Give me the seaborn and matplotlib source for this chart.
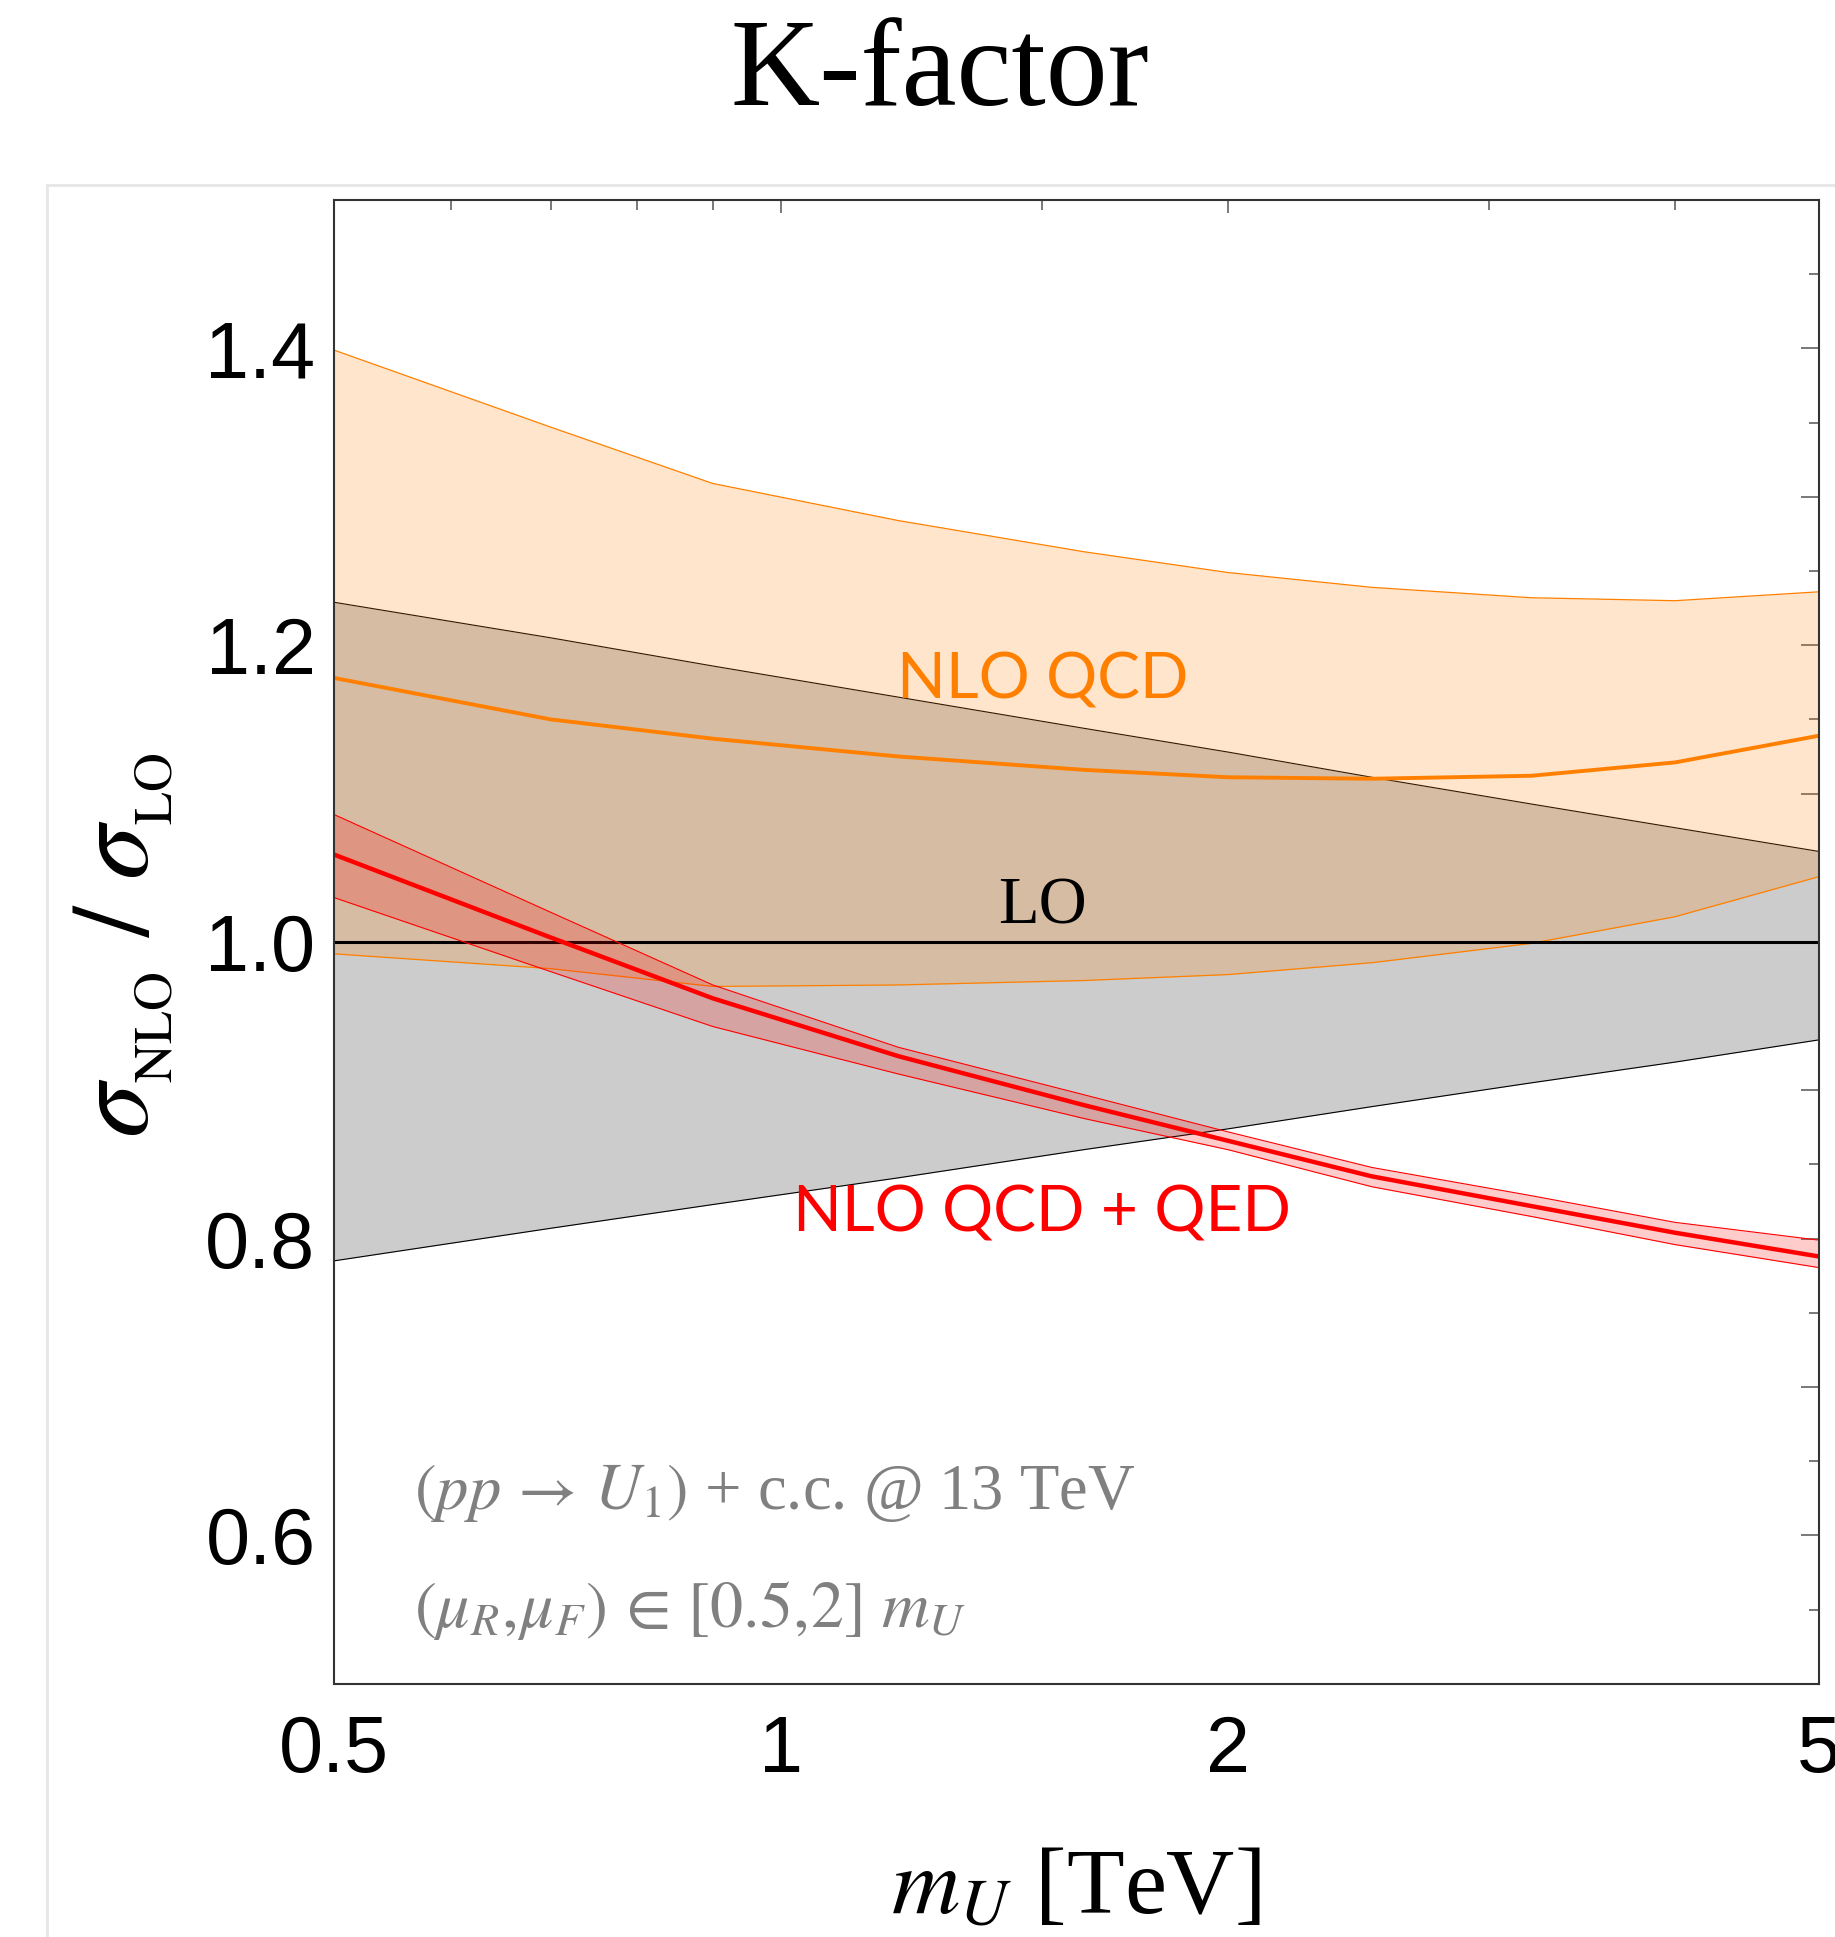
import numpy as np
import pandas as pd
import matplotlib
matplotlib.use("Agg")
import matplotlib.pyplot as plt
import seaborn as sns
from matplotlib.ticker import FixedLocator, FixedFormatter, NullFormatter
from matplotlib.lines import Line2D

# ---------------- data ----------------
m_U = [0.5, 0.7, 0.9, 1.2, 1.6, 2.0, 2.5, 3.2, 4.0, 5.0]
lo_up = [1.229, 1.205, 1.186, 1.165, 1.144, 1.128, 1.111, 1.093, 1.077, 1.061]
lo_dn = [0.785, 0.807, 0.823, 0.841, 0.860, 0.874, 0.889, 0.905, 0.919, 0.934]
lo_c = [1.0] * 10
qcd_c = [1.178, 1.150, 1.137, 1.125, 1.116, 1.111, 1.110, 1.112, 1.121, 1.139]
qcd_up = [1.399, 1.347, 1.309, 1.284, 1.263, 1.249, 1.239, 1.232, 1.230, 1.236]
qcd_dn = [0.992, 0.982, 0.970, 0.971, 0.974, 0.978, 0.986, 0.999, 1.017, 1.044]
qed_c = [1.059, 1.003, 0.962, 0.923, 0.890, 0.866, 0.842, 0.822, 0.804, 0.788]
qed_up = [1.086, 1.020, 0.971, 0.929, 0.897, 0.872, 0.848, 0.829, 0.811, 0.799]
qed_dn = [1.030, 0.980, 0.943, 0.911, 0.881, 0.860, 0.835, 0.815, 0.796, 0.7805]

x_major = [0.5, 1, 2, 5]
x_major_labels = ["0.5", "1", "2", "5"]
x_minor = [0.6, 0.7, 0.8, 0.9, 1.5, 3, 4]
y_major = [0.5, 0.6, 0.7, 0.8, 0.9, 1.0, 1.1, 1.2, 1.3, 1.4, 1.5]
y_major_labels = ["", "0.6", "", "0.8", "", "1.0", "", "1.2", "", "1.4", ""]
y_minor = [0.55, 0.65, 0.75, 0.85, 0.95, 1.05, 1.15, 1.25, 1.35, 1.45]

df = pd.DataFrame({"m": m_U, "LO": lo_c, "QCD": qcd_c, "QED": qed_c})

# ---------------- style ----------------
sns.set_theme(style="white")
plt.rcParams["mathtext.fontset"] = "stix"
plt.rcParams["font.family"] = ["Liberation Sans", "DejaVu Sans"]
plt.rcParams["text.color"] = "black"

W, H = 1835, 1937
fig = plt.figure(figsize=(W / 100, H / 100), dpi=100)
fig.patch.set_facecolor("white")
ax = fig.add_axes([270 / 1485, 1 - 1363 / 1568, 1202 / 1485, 1201 / 1568])
ax.set_facecolor("white")

ORANGE = "#ff8000"
RED = "#ff0000"

# LO band
ax.fill_between(m_U, lo_dn, lo_up, color="#cccccc", linewidth=0, zorder=1)
ax.plot(m_U, lo_up, color="black", lw=0.8, zorder=2)
ax.plot(m_U, lo_dn, color="black", lw=0.8, zorder=2)
# NLO QCD band
ax.fill_between(m_U, qcd_dn, qcd_up, color=ORANGE, alpha=0.2, linewidth=0, zorder=3)
ax.plot(m_U, qcd_up, color=ORANGE, lw=0.9, zorder=4)
ax.plot(m_U, qcd_dn, color=ORANGE, lw=0.9, zorder=4)
# LO line
sns.lineplot(data=df, x="m", y="LO", color="black", lw=2.2, ax=ax, zorder=5)
# NLO QCD central
sns.lineplot(data=df, x="m", y="QCD", color=ORANGE, lw=2.8, ax=ax, zorder=6)
# QCD+QED band
ax.fill_between(m_U, qed_dn, qed_up, color=RED, alpha=0.2, linewidth=0, zorder=7)
ax.plot(m_U, qed_up, color=RED, lw=0.8, zorder=8)
ax.plot(m_U, qed_dn, color=RED, lw=0.8, zorder=8)
sns.lineplot(data=df, x="m", y="QED", color=RED, lw=3.2, ax=ax, zorder=9)

ax.set_xscale("log")
ax.set_xlim(0.5, 5)
ax.set_ylim(0.5, 1.5)
ax.set_xlabel("")
ax.set_ylabel("")

ax.xaxis.set_major_locator(FixedLocator(x_major))
ax.xaxis.set_major_formatter(FixedFormatter(x_major_labels))
ax.xaxis.set_minor_locator(FixedLocator(x_minor))
ax.xaxis.set_minor_formatter(NullFormatter())
ax.yaxis.set_major_locator(FixedLocator(y_major))
ax.yaxis.set_major_formatter(FixedFormatter(y_major_labels))
ax.yaxis.set_minor_locator(FixedLocator(y_minor))
ax.yaxis.set_minor_formatter(NullFormatter())

tick_col = "#555555"
ax.tick_params(axis="both", which="both", direction="in", top=True, right=True,
               color=tick_col, width=1.1, labelsize=57, labelcolor="black")
ax.tick_params(axis="x", which="major", length=9, pad=22)
ax.tick_params(axis="x", which="minor", length=7)
ax.tick_params(axis="y", which="major", length=13, pad=13)
ax.tick_params(axis="y", which="minor", length=7)
for sp in ax.spines.values():
    sp.set_color("#333333")
    sp.set_linewidth(1.5)
    sp.set_visible(True)
    sp.set_zorder(20)

# annotations
ax.text(1.5, 1.1638, "NLO QCD", color=ORANGE, fontsize=46, ha="center", va="baseline",
        family=["Lato", "DejaVu Sans"], zorder=12)
ax.text(1.5, 1.0125, "LO", color="black", fontsize=48, ha="center", va="baseline",
        family=["Liberation Serif", "DejaVu Serif"], zorder=12)
ax.text(1.5, 0.8046, "NLO QCD + QED", color=RED, fontsize=46, ha="center", va="baseline",
        family=["Lato", "DejaVu Sans"], zorder=12)
gray = "#808080"
ax.text(0.566, 0.618, r"$(pp\,\rightarrow\,U_1)$ + c.c. @ 13 TeV",
        color=gray, fontsize=46.5, ha="left", va="baseline", zorder=12,
        family=["Liberation Serif", "DejaVu Serif"])
ax.text(0.566, 0.5385, r"$(\mu_R,\!\mu_F)\,\in\,[0.5,\!2]\ m_U$",
        color=gray, fontsize=47.5, ha="left", va="baseline", zorder=12)

# title and axis labels
fig.text(0.512, 1 - 105 / H, "K-factor", fontsize=89, ha="center", va="baseline",
         color="black", family=["Liberation Serif", "DejaVu Serif"])
fig.text(871 / 1485, 1 - 1913 / H, r"$m_U$ [TeV]", fontsize=68, ha="center", va="baseline",
         color="black", family=["Liberation Serif", "DejaVu Serif"])
fig.text(100 / 1485, 1 - 765 / 1568, r"$\sigma_{_{\rm NLO}}\ /\ \sigma_{_{\rm LO}}$",
         fontsize=79, rotation=90, ha="center", va="center", color="black")

# faint panel frame
fig.add_artist(Line2D([38 / 1485, 1.0], [1 - 150 / 1568, 1 - 150 / 1568],
                      transform=fig.transFigure, color="#e6e6e6", lw=2))
fig.add_artist(Line2D([38 / 1485, 38 / 1485], [0.0, 1 - 150 / 1568],
                      transform=fig.transFigure, color="#e6e6e6", lw=2))

fig.savefig("out.png", dpi=100)
